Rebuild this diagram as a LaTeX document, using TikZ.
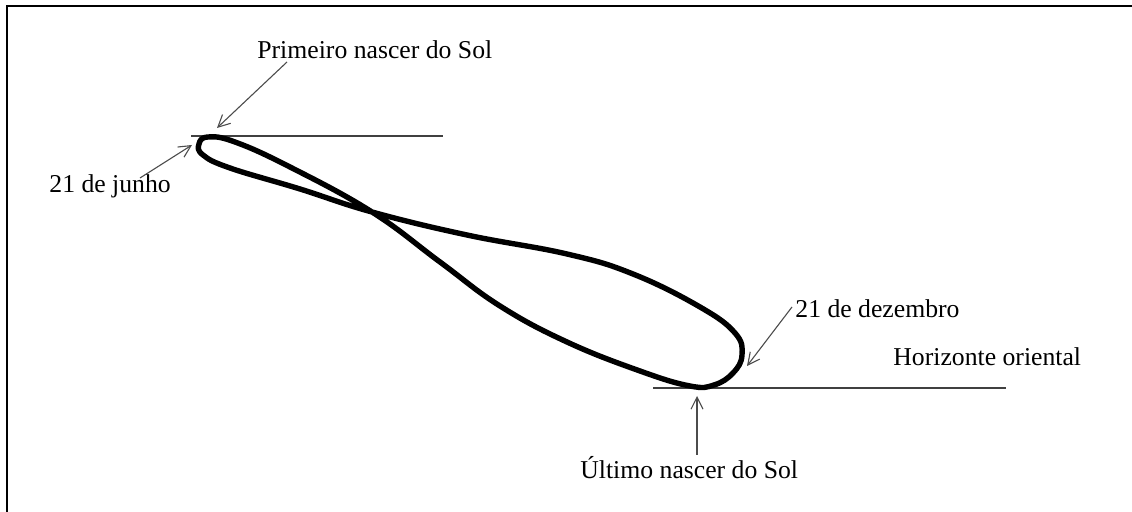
\documentclass[tikz,border=0pt]{standalone}
\usepackage{fontspec}
\setmainfont{Liberation Serif}
\usetikzlibrary{arrows.meta}
\begin{document}
\begin{tikzpicture}[x=0.5pt,y=-0.5pt,
  lbl/.style={inner sep=0pt,anchor=base west,font=\fontsize{12.85}{15}\selectfont},
  horiz/.style={draw=black!75,line width=1pt},
  pointer/.style={draw=black!70,line width=0.55pt,-{Straight Barb[length=6pt,width=6pt]}},
  curve/.style={draw=black,line width=2.7pt,line join=round}]
\useasboundingbox (0,0) rectangle (1132,512);
\fill[white] (0,0) rectangle (1132,512);
% frame
\draw[line width=1.1pt] (7,512) -- (7,6) -- (1132,6);
% horizon lines
\coordinate (h1a) at (191,136);
\coordinate (h1b) at (443,136);
\coordinate (h2a) at (653,388);
\coordinate (h2b) at (1006,388);
\draw[horiz] (h1a) -- (h1b);
\draw[horiz] (h2a) -- (h2b);
% analemma
\draw[curve] plot[smooth cycle,tension=0.7] coordinates {
 (208,137) (235,142) (290,167) (372,212) (440,262) (500,306)
 (567,342) (640,371) (690,386) (714,385) (733,373) (742,355)
 (735,333) (700,307) (633,274) (567,254) (467,235)
 (372,212) (300,189) (230,168) (203,155) (199,144)};
% labels
\node[lbl] (prim) at (257,59) {Primeiro nascer do Sol};
\node[lbl] (jun) at (49,193) {21 de junho};
\node[lbl] (dez) at (795,318) {21 de dezembro};
\node[lbl] (hor) at (893,366) {Horizonte oriental};
\node[lbl] (ult) at (580,479) {Último nascer do Sol};
% arrow coordinates
\coordinate (pA) at (287,62);
\coordinate (pB) at (217,128);
\coordinate (jA) at (140,178);
\coordinate (jB) at (192,145);
\coordinate (dA) at (792,307);
\coordinate (dB) at (747,366);
\coordinate (uA) at (697,455);
\coordinate (uB) at (697,396);
\draw[pointer] (pA) -- (pB);
\draw[pointer] (jA) -- (jB);
\draw[pointer] (dA) -- (dB);
\draw[pointer] (uA) -- (uB);
\end{tikzpicture}
\end{document}
